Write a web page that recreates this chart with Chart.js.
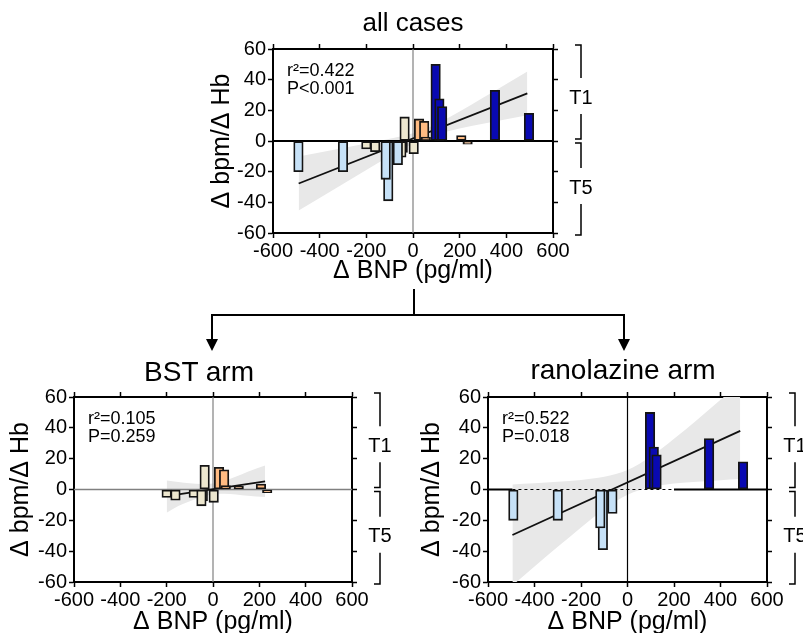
<!DOCTYPE html>
<html>
<head>
<meta charset="utf-8">
<script src="https://cdn.jsdelivr.net/npm/chart.js@4.4.1/dist/chart.umd.min.js"></script>
<style>
  html, body { margin: 0; padding: 0; background: #fff; width: 803px; height: 633px; overflow: hidden; }
  body { position: relative; font-family: "Liberation Sans", Arial, sans-serif; }
  .box { position: absolute; }
  .ttl { position: absolute; transform: translate(-50%, -50%); white-space: nowrap; color: #000; }
</style>
</head>
<body>
<svg width="803" height="633" style="position:absolute;left:0;top:0">
  <path d="M414 289V315M211 315H625M212 315V340M624 315V340" stroke="#000" stroke-width="2" fill="none"/>
  <path d="M206 339H218L212 351Z M618 339H630L624 351Z" fill="#000"/>
</svg>

<div class="box" style="left:180px;top:30px;width:430px;height:260px"><canvas id="cAll"></canvas></div>
<div class="box" style="left:0px;top:370px;width:410px;height:280px"><canvas id="cBst"></canvas></div>
<div class="box" style="left:410px;top:370px;width:420px;height:280px"><canvas id="cRan"></canvas></div>

<div class="ttl" style="left:413px;top:22px;font-size:26px">all cases</div>
<div class="ttl" style="left:199px;top:372px;font-size:28px">BST arm</div>
<div class="ttl" style="left:623px;top:370px;font-size:28px">ranolazine arm</div>

<script>
/* ================= DATA ================= */
// ranolazine arm, T5 (light blue) and T1 (dark blue)
const ranT5X = [-491, -300, -106, -117, -65];
const ranT5Y = [-20, -20, -39, -25, -15.5];
const ranT1X = [97, 113, 125, 351, 497];
const ranT1Y = [50, 27.5, 22.5, 33, 18];
// BST arm, T5 (beige) and T1 (orange)
const bstT5X = [-200, -162, -83, -44, -50, -36, 3];
const bstT5Y = [-5.2, -7, -5.2, -7.4, -10.6, 15.7, -8.3];
const bstT1X = [26, 48, 55, 111, 207, 234];
const bstT1Y = [14.4, 12.8, 2.5, 2, 3.5, -2.1];

// regression lines and confidence bands
const allFitX = [-490, 490];
const allFitY = [-27.7, 31.1];
const allBandX = [-490, -400, -300, -200, -100, 0, 50, 100, 200, 300, 400, 490];
const allBandHi = [-10.1, -7.5, -4.6, -1.7, 1.4, 5.1, 7.7, 11.1, 19.3, 28.2, 37.2, 45.4];
const allBandLo = [-45.3, -37.1, -28.0, -18.9, -10.0, -1.7, 1.7, 4.3, 8.1, 11.2, 14.2, 16.8];

const bstFitX = [-200, 225];
const bstFitY = [-4.3, 5.3];
const bstBandX = [-200, -150, -100, -50, 0, 50, 100, 150, 225];
const bstBandHi = [5.8, 4.9, 4.0, 3.5, 3.9, 5.7, 8.4, 11.5, 15.6];
const bstBandLo = [-15, -10.7, -7.6, -4.9, -3.1, -2.7, -3.2, -4.1, -4.9];

const ranFitX = [-495, 485];
const ranFitY = [-29.5, 38];
const ranBandX = [-495, -400, -300, -200, -100, 0, 100, 200, 300, 400, 485];
const ranBandHi = [3.3, 4.1, 5.0, 6.2, 8.2, 12.6, 21.4, 32.9, 45.3, 58.2, 69.2];
const ranBandLo = [-62.3, -49.9, -37.2, -24.6, -12.8, -3.4, 1.6, 3.9, 5.1, 6.0, 6.8];

const statsAll = ["r²=0.422", "P<0.001"];
const statsBst = ["r²=0.105", "P=0.259"];
const statsRan = ["r²=0.522", "P=0.018"];

/* ================= STYLE ================= */
const FONT = '"Liberation Sans", Arial, sans-serif';
const C_LB = "#c6e1f7", C_DB = "#0909b2", C_BG = "#ede7cf", C_OR = "#ffbb82";

const pts = (xs, ys) => xs.map((x, i) => ({ x, y: ys[i] }));

const barSet = (xs, ys, color, order) => ({
    type: "bar",
    data: pts(xs, ys),
    backgroundColor: color,
    borderColor: "#141414",
    borderWidth: 1.8,
    borderSkipped: false,
    barThickness: 9.5,
    grouped: false,
    order
});

const fitSets = (fx, fy, bx, hi, lo) => [
    { type: "line", tag: "fit", data: pts(fx, fy), borderColor: "#111", borderWidth: 1.8, pointRadius: 0, fill: false, order: 8 },
    { type: "line", data: pts(bx, hi), borderWidth: 0, borderColor: "transparent", backgroundColor: "#e8e8e8", pointRadius: 0, fill: "+1", cubicInterpolationMode: "monotone", order: 10 },
    { type: "line", data: pts(bx, lo), borderWidth: 0, borderColor: "transparent", pointRadius: 0, fill: false, cubicInterpolationMode: "monotone", order: 9 }
];

/* ================= PLUGIN ================= */
const annot = {
    id: "annot",
    beforeDatasetDraw(chart, args, o) {
        if (chart.data.datasets[args.index].tag !== "fit") return;
        const { ctx, chartArea: a, scales: { x, y } } = chart;
        ctx.save();
        ctx.beginPath();
        ctx.rect(a.left, a.top, a.width, a.height);
        ctx.clip();
        o.lines.forEach(l => {
            ctx.strokeStyle = l.color;
            ctx.lineWidth = l.width;
            ctx.setLineDash(l.dash || []);
            ctx.beginPath();
            ctx.moveTo(x.getPixelForValue(l.x0), y.getPixelForValue(l.y0));
            ctx.lineTo(x.getPixelForValue(l.x1), y.getPixelForValue(l.y1));
            ctx.stroke();
        });
        ctx.restore();
    },
    afterDraw(chart, args, o) {
        const { ctx, chartArea: a, scales: { y } } = chart;
        ctx.save();
        ctx.fillStyle = "#000";
        ctx.font = "18px " + FONT;
        ctx.textAlign = "left";
        ctx.textBaseline = "middle";
        ctx.fillText(o.stats[0], a.left + 14, a.top + 22);
        ctx.fillText(o.stats[1], a.left + 14, a.top + 40);

        // T1 / T5 brackets on the right
        const bx = a.right + 28;
        ctx.strokeStyle = "#000";
        ctx.lineWidth = 1.5;
        ctx.font = "20px " + FONT;
        ctx.textAlign = "center";
        [["T1", y.getPixelForValue(60) - 4, y.getPixelForValue(0) - 2, 5],
         ["T5", y.getPixelForValue(0) + 2, y.getPixelForValue(-60) + 2, -2]].forEach(([t, y0, y1, dy]) => {
            const mid = (y0 + y1) / 2 + dy;
            ctx.beginPath();
            ctx.moveTo(bx - 6, y0); ctx.lineTo(bx, y0); ctx.lineTo(bx, mid - 19);
            ctx.moveTo(bx, mid + 17); ctx.lineTo(bx, y1); ctx.lineTo(bx - 6, y1);
            ctx.stroke();
            ctx.fillText(t, bx, mid + 1);
        });
        ctx.restore();
    }
};

/* ================= CHARTS ================= */
function scalesFor(L) {
    const fix = (prop, v) => s => { s[prop] = v; };
    const tick = { color: "#000", font: { family: FONT, size: 20 } };
    const grid = { offset: false, drawOnChartArea: false, tickLength: 5, tickColor: "#000", tickWidth: 1.5 };
    const border = { color: "#000", width: 2 };
    const xs = { type: "linear", min: -600, max: 600, offset: false };
    const ys = { type: "linear", min: -60, max: 60 };
    return {
        x: { ...xs, position: "bottom", grid, border,
             ticks: { ...tick, stepSize: 200, padding: 1, maxRotation: 0, autoSkip: false },
             title: { display: true, text: "Δ BNP (pg/ml)", color: "#000", font: { family: FONT, size: 25 }, padding: { top: 0, bottom: L.xPad } },
             afterFit: fix("height", L.xH) },
        x2: { ...xs, position: "top", grid, border, ticks: { stepSize: 200, display: false },
              afterFit: fix("height", L.x2H) },
        y: { ...ys, position: "left", grid, border,
             ticks: { ...tick, stepSize: 20, padding: 2 },
             title: { display: true, text: "Δ bpm/Δ Hb", color: "#000", font: { family: FONT, size: 25 }, padding: { top: L.yPad, bottom: 0 } },
             afterFit: fix("width", L.yW) },
        y2: { ...ys, position: "right", grid, border, ticks: { stepSize: 20, display: false },
              afterFit: fix("width", L.y2W) }
    };
}

function makeChart(id, datasets, L, annotOpts) {
    return new Chart(document.getElementById(id), {
        type: "bar",
        data: { datasets },
        options: {
            responsive: true,
            maintainAspectRatio: false,
            devicePixelRatio: 1,
            animation: false,
            layout: { padding: 0 },
            scales: scalesFor(L),
            plugins: { legend: { display: false }, tooltip: { enabled: false }, annot: annotOpts }
        },
        plugins: [annot]
    });
}

makeChart("cAll", [
    barSet(ranT1X, ranT1Y, C_DB, 1),
    barSet(ranT5X, ranT5Y, C_LB, 2),
    barSet(bstT1X, bstT1Y, C_OR, 3),
    barSet(bstT5X, bstT5Y, C_BG, 4),
    ...fitSets(allFitX, allFitY, allBandX, allBandHi, allBandLo)
], { yW: 93, y2W: 57, x2H: 19, xH: 57, xPad: 4, yPad: 27 }, {
    stats: statsAll,
    lines: [
        { x0: 0, y0: -60, x1: 0, y1: 60, color: "#808080", width: 1.2 },
        { x0: -600, y0: 0, x1: 600, y1: 0, color: "#000", width: 2 }
    ]
});

makeChart("cBst", [
    barSet(bstT1X, bstT1Y, C_OR, 3),
    barSet(bstT5X, bstT5Y, C_BG, 4),
    ...fitSets(bstFitX, bstFitY, bstBandX, bstBandHi, bstBandLo)
], { yW: 74, y2W: 58, x2H: 27, xH: 68, xPad: 13, yPad: 6 }, {
    stats: statsBst,
    lines: [
        { x0: 0, y0: -60, x1: 0, y1: 60, color: "#808080", width: 1.2 },
        { x0: -600, y0: 0, x1: 600, y1: 0, color: "#808080", width: 1.5 }
    ]
});

makeChart("cRan", [
    barSet(ranT1X, ranT1Y, C_DB, 1),
    barSet(ranT5X, ranT5Y, C_LB, 2),
    ...fitSets(ranFitX, ranFitY, ranBandX, ranBandHi, ranBandLo)
], { yW: 78, y2W: 63, x2H: 27, xH: 68, xPad: 13, yPad: 7 }, {
    stats: statsRan,
    lines: [
        { x0: 0, y0: -60, x1: 0, y1: 60, color: "#000", width: 1.2 },
        { x0: -600, y0: 0, x1: -495, y1: 0, color: "#000", width: 2 },
        { x0: -495, y0: 0, x1: 200, y1: 0, color: "#000", width: 1, dash: [3, 3] },
        { x0: 200, y0: 0, x1: 600, y1: 0, color: "#000", width: 2 }
    ]
});
</script>
</body>
</html>
